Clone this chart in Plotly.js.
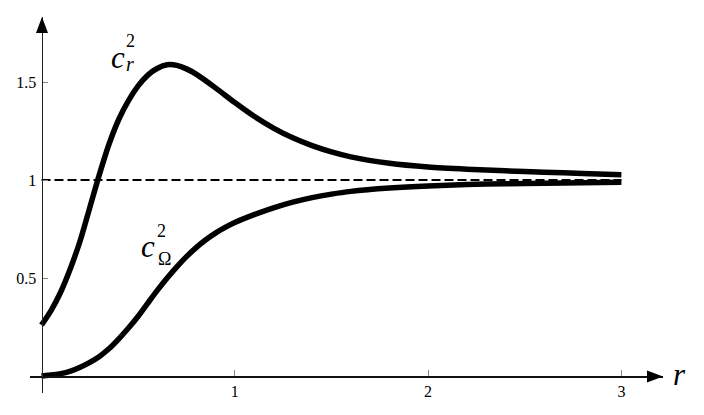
<!DOCTYPE html>
<html>
<head>
<meta charset="utf-8">
<script src="https://cdn.plot.ly/plotly-3.0.1.min.js"></script>
<style>html,body{margin:0;padding:0;background:#fff;}#chart{width:704px;height:415px;}</style>
</head>
<body>
<div id="chart"></div>
<script>
// ---- data ----
const rUpper = [0, 0.05, 0.1, 0.15, 0.2, 0.25, 0.3, 0.35, 0.4, 0.45, 0.5, 0.55, 0.6, 0.65, 0.7, 0.75, 0.8, 0.9, 1.0, 1.1, 1.2, 1.3, 1.4, 1.5, 1.6, 1.8, 2.0, 2.2, 2.4, 2.6, 2.8, 3.0];
const cr2 = [0.26, 0.335, 0.43, 0.55, 0.69, 0.86, 1.03, 1.185, 1.31, 1.405, 1.48, 1.535, 1.57, 1.588, 1.585, 1.567, 1.54, 1.47, 1.395, 1.325, 1.265, 1.215, 1.175, 1.143, 1.118, 1.085, 1.066, 1.055, 1.047, 1.04, 1.033, 1.027];
const rLower = [0, 0.1, 0.15, 0.2, 0.25, 0.3, 0.35, 0.4, 0.45, 0.5, 0.55, 0.6, 0.65, 0.7, 0.75, 0.8, 0.85, 0.9, 0.95, 1.0, 1.1, 1.2, 1.3, 1.4, 1.5, 1.6, 1.8, 2.0, 2.2, 2.4, 2.6, 2.8, 3.0];
const cOmega2 = [0.0, 0.012, 0.025, 0.045, 0.07, 0.10, 0.14, 0.19, 0.245, 0.305, 0.372, 0.438, 0.500, 0.557, 0.609, 0.655, 0.695, 0.729, 0.758, 0.783, 0.823, 0.858, 0.887, 0.910, 0.928, 0.942, 0.959, 0.970, 0.977, 0.981, 0.984, 0.986, 0.988];
const refX = [0, 3];
const refY = [1, 1];
const xTickVals = [1, 2, 3];
const xTickText = ['1', '2', '3'];
const yTickVals = [0.5, 1, 1.5];
const yTickText = ['0.5', '1', '1.5'];

// ---- geometry (pixels) ----
const W = 704, H = 415;
const mL = 30, mR = 41, mT = 17, mB = 22;
const pw = W - mL - mR, ph = H - mT - mB;
const x0px = 41.5, xUnit = 193.3;
const y0px = 376, yUnit = 196;
const xr = [(mL - x0px) / xUnit, (W - mR - x0px) / xUnit];
const yr = [(y0px - (H - mB)) / yUnit, (y0px - mT) / yUnit];
const px2paperX = p => (p - mL) / pw;
const px2paperY = p => ((H - mB) - p) / ph;
const px2dataX = p => (p - x0px) / xUnit;
const px2dataY = p => (y0px - p) / yUnit;

const serif = 'Liberation Serif';

const traces = [
  {x: refX, y: refY, mode: 'lines', line: {color: '#000', width: 1.8, dash: '9px,4px'}, hoverinfo: 'skip', showlegend: false},
  {x: rUpper, y: cr2, mode: 'lines', line: {color: '#000', width: 5.5, shape: 'spline', smoothing: 0.8}, showlegend: false},
  {x: rLower, y: cOmega2, mode: 'lines', line: {color: '#000', width: 5.5, shape: 'spline', smoothing: 0.8}, showlegend: false}
];

function tri(pts) {
  return 'M' + pts.map(p => px2paperX(p[0]) + ',' + px2paperY(p[1])).join(' L') + ' Z';
}

const shapes = [
  {type: 'path', xref: 'paper', yref: 'paper', path: tri([[42, 17], [36, 33], [48, 33]]), fillcolor: '#000', line: {width: 0}},
  {type: 'path', xref: 'paper', yref: 'paper', path: tri([[663, 376.5], [647, 370.5], [647, 382.5]]), fillcolor: '#000', line: {width: 0}}
];

function lab(text, pxX, pxY, size) {
  return {text: text, x: px2dataX(pxX), y: px2dataY(pxY), xref: 'x', yref: 'y', showarrow: false,
          xanchor: 'center', yanchor: 'middle', font: {family: serif, size: size, color: '#000'}};
}

const annotations = [
  lab('<i>c</i>', 117.5, 57, 31),
  lab('2', 130.5, 40.5, 18),
  lab('<i>r</i>', 129.5, 64, 20),
  lab('<i>c</i>', 147.5, 246, 31),
  lab('2', 161, 230.5, 18),
  lab('Ω', 164, 258.5, 18),
  {text: '<i>r</i>', x: px2paperX(679), y: px2paperY(374.5), xref: 'paper', yref: 'paper', showarrow: false,
   xanchor: 'center', yanchor: 'middle', font: {family: serif, size: 31, color: '#000'}}
];

const layout = {
  width: W, height: H,
  margin: {l: mL, r: mR, t: mT, b: mB, pad: 0},
  paper_bgcolor: '#fff', plot_bgcolor: '#fff',
  showlegend: false,
  font: {family: serif, size: 16, color: '#000'},
  xaxis: {range: xr, anchor: 'free', position: px2paperY(y0px), showgrid: false, zeroline: false,
          showline: true, linecolor: '#111', linewidth: 1.5,
          tickmode: 'array', tickvals: xTickVals, ticktext: xTickText,
          ticks: 'inside', ticklen: 6, tickwidth: 1, tickcolor: '#888',
          tickfont: {family: serif, size: 16, color: '#000'}, fixedrange: true},
  yaxis: {range: yr, anchor: 'free', position: px2paperX(x0px), showgrid: false, zeroline: false,
          showline: true, linecolor: '#222', linewidth: 1.5,
          tickmode: 'array', tickvals: yTickVals, ticktext: yTickText,
          ticks: 'inside', ticklen: 5, tickwidth: 1, tickcolor: '#888', ticklabelstandoff: 2,
          tickfont: {family: serif, size: 16, color: '#000'}, fixedrange: true},
  shapes: shapes,
  annotations: annotations
};

Plotly.newPlot('chart', traces, layout, {displayModeBar: false, staticPlot: true});
</script>
</body>
</html>
